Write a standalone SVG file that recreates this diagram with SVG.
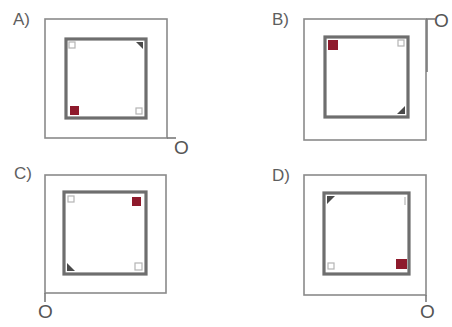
<svg xmlns="http://www.w3.org/2000/svg" width="452" height="327" viewBox="0 0 452 327">
<style>
.outer{fill:none;stroke:#8a8a8a;stroke-width:1.6}
.inner{fill:none;stroke:#6e6e6e;stroke-width:3.2}
.red{fill:#8e1a2c}
.dark{fill:#4a4a4a}
.open{fill:none;stroke:#b4b4b4;stroke-width:1.2}
.lab{font-family:"Liberation Sans",Arial,sans-serif;font-size:17px;fill:#5e5e5e}
.o{font-family:"Liberation Sans",Arial,sans-serif;font-size:19px;fill:#555555}
.conn{fill:none;stroke:#7a7a7a;stroke-width:1.6}
</style>
<rect width="452" height="327" fill="#ffffff"/>
<g id="panelA">
<text class="lab" x="13" y="25">A)</text>
<rect class="outer" x="45" y="19" width="122" height="119"/>
<rect class="inner" x="66" y="39" width="80" height="79"/>
<rect class="red" x="70" y="106" width="9" height="9"/>
<polygon class="dark" points="136,42 143,42 143,49"/>
<rect class="open" x="69" y="42" width="6" height="6"/>
<rect class="open" x="136" y="108" width="6" height="6"/>
<text class="o" x="174" y="154">O</text>
</g>
<g id="panelB">
<text class="lab" x="272" y="25">B)</text>
<rect class="outer" x="304" y="19" width="122" height="121"/>
<rect class="inner" x="325" y="37" width="83" height="80"/>
<rect class="red" x="328" y="40" width="10" height="10"/>
<polygon class="dark" points="405,106 405,114 397,114"/>
<rect class="open" x="398" y="40" width="6" height="6"/>
<text class="o" x="434" y="27">O</text>
</g>
<g id="panelC">
<text class="lab" x="14" y="179">C)</text>
<rect class="outer" x="45" y="175" width="121" height="118"/>
<rect class="inner" x="64" y="192" width="82" height="82"/>
<rect class="red" x="132" y="197" width="9" height="9"/>
<polygon class="dark" points="67,263 67,271 75,271"/>
<rect class="open" x="68" y="196" width="6" height="6"/>
<rect class="open" x="135" y="263" width="7" height="7"/>
<text class="o" x="38" y="318">O</text>
</g>
<g id="panelD">
<text class="lab" x="272" y="181">D)</text>
<rect class="outer" x="304" y="175" width="122" height="120"/>
<rect class="inner" x="324" y="193" width="85" height="81"/>
<rect class="red" x="396" y="259" width="11" height="10"/>
<polygon class="dark" points="327,196 335,196 327,204"/>
<rect class="open" x="328" y="263" width="6" height="6"/>
<line class="open" x1="405" y1="197" x2="405" y2="205"/>
<text class="o" x="420" y="318">O</text>
</g>
<g id="connectors">
<line class="conn" x1="167" y1="138" x2="176" y2="138"/>
<line class="conn" x1="426" y1="19" x2="435" y2="19"/>
<line class="conn" x1="427" y1="19" x2="427" y2="72" stroke-width="2"/>
<line class="conn" x1="45" y1="293" x2="45" y2="302"/>
<line class="conn" x1="426" y1="295" x2="426" y2="302"/>
</g>
</svg>
